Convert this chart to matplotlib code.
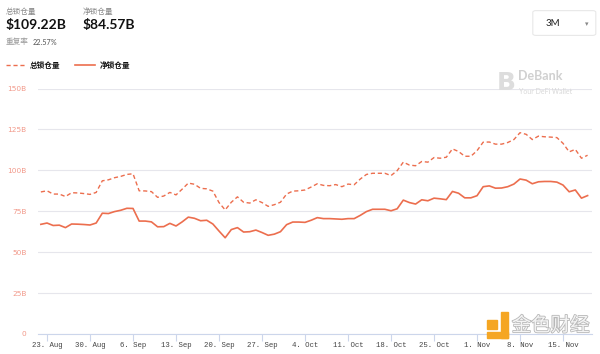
import matplotlib.pyplot as plt
import matplotlib.dates as mdates
import matplotlib.patheffects as pe
import pandas as pd
from matplotlib.patches import Rectangle, FancyBboxPatch

plt.rcParams['font.family'] = ['Noto Sans CJK SC', 'DejaVu Sans']

# 每日数据 (B)
datas = pd.date_range('2021-08-22', '2021-11-19', freq='D')
total_locked = [
    86.8, 87.5, 85.5, 85.5, 84.0, 86.3, 86.2, 85.8, 85.3, 86.5,
    93.6, 94.2, 95.5, 96.3, 97.5, 97.9, 87.5, 87.4, 87.0, 83.5,
    84.3, 86.5, 85.0, 88.5, 92.2, 91.5, 89.0, 88.7, 87.3, 80.3,
    75.8, 80.5, 83.8, 80.5, 80.0, 82.0, 80.3, 78.0, 79.0, 80.5,
    85.5, 87.3, 87.5, 88.0, 89.8, 91.8, 90.8, 90.6, 91.3, 90.0,
    91.6, 91.2, 94.7, 97.5, 98.2, 98.2, 98.2, 96.8, 99.8, 105.0,
    103.2, 102.8, 105.4, 105.0, 107.8, 107.4, 108.0, 113.1, 111.5, 108.6,
    108.6, 112.0, 117.2, 117.3, 116.0, 116.0, 117.0, 118.8, 123.0, 122.0,
    118.8, 120.9, 120.5, 120.3, 120.0, 116.5, 111.3, 112.8, 107.4, 109.22,
]
net_locked = [
    67.0, 67.8, 66.3, 66.5, 65.0, 67.2, 67.1, 66.9, 66.6, 67.8,
    73.8, 73.6, 74.8, 75.6, 76.8, 76.7, 69.0, 69.0, 68.5, 65.5,
    65.6, 67.6, 66.0, 68.5, 71.4, 70.7, 69.2, 69.5, 67.2, 62.9,
    58.8, 63.8, 65.0, 62.3, 62.5, 63.5, 62.0, 60.3, 61.0, 62.5,
    66.8, 68.4, 68.4, 68.2, 69.5, 71.1, 70.5, 70.5, 70.3, 70.1,
    70.5, 70.5, 72.5, 74.8, 76.2, 76.2, 76.2, 75.3, 76.5, 81.8,
    80.3, 79.4, 82.0, 81.4, 83.0, 82.6, 82.1, 87.1, 86.0, 83.2,
    83.2, 84.5, 90.0, 90.5, 89.1, 89.2, 90.0, 91.6, 94.7, 94.0,
    91.8, 93.0, 93.2, 93.2, 92.8, 91.0, 86.9, 88.0, 83.0, 84.57,
]
y_ticks = [0, 25, 50, 75, 100, 125, 150]
y_labels = ['0', '25B', '50B', '75B', '100B', '125B', '150B']

COR = '#ec6e4e'

fig = plt.figure(figsize=(6, 3.54), dpi=100)
ax = fig.add_axes([0.063, 0.0565, 0.924, 0.6935])

ax.plot(datas, total_locked, color=COR, lw=1.0, ls=(0, (3, 2)))
ax.plot(datas, net_locked, color=COR, lw=1.2)

ax.set_ylim(0, 150)
ax.set_xlim(datas[0] - pd.Timedelta(hours=12), datas[-1] + pd.Timedelta(hours=18))
ax.set_yticks(y_ticks)
ax.set_yticklabels(y_labels)
ax.grid(axis='y', color='#e6e6ec', lw=0.8)
ax.set_axisbelow(True)
for s in ['top', 'right', 'left']:
    ax.spines[s].set_visible(False)
ax.spines['bottom'].set_color('#ccd6eb')
ax.spines['bottom'].set_linewidth(0.8)

semanas = pd.date_range('2021-08-23', '2021-11-15', freq='7D')
ax.set_xticks(semanas)
ax.set_xticklabels([d.strftime('%-d. %b') for d in semanas],
                   family='Liberation Mono', fontsize=5.3, color='#444444')
ax.tick_params(axis='x', length=5, color='#ccd6eb', width=0.8, pad=1)
ax.tick_params(axis='y', length=0, pad=8, labelsize=5.3, labelcolor='#f2998a')
for t in ax.get_yticklabels():
    t.set_family('DejaVu Sans')

# Cabeçalho
fig.text(0.01, 0.978, '总锁仓量', fontsize=5.5, color='#888888', va='top')
fig.text(0.01, 0.945, '$109.22B', fontsize=10, color='#111111', va='top', family='Lato', weight='bold')
fig.text(0.138, 0.978, '净锁仓量', fontsize=5.5, color='#888888', va='top')
fig.text(0.138, 0.945, '$84.57B', fontsize=10, color='#111111', va='top', family='Lato', weight='bold')
fig.text(0.01, 0.892, '重复率', fontsize=5.5, color='#999999', va='top')
fig.text(0.055, 0.889, '22.57%', fontsize=5.2, color='#555555', va='top', family='Lato')

# Legenda
fig.add_artist(plt.Line2D([0.01, 0.042], [0.815, 0.815], color=COR, lw=1.0, ls=(0, (3, 2))))
fig.text(0.05, 0.815, '总锁仓量', fontsize=5.5, color='#111111', va='center', weight='bold')
fig.add_artist(plt.Line2D([0.125, 0.158], [0.815, 0.815], color=COR, lw=1.2))
fig.text(0.166, 0.815, '净锁仓量', fontsize=5.5, color='#111111', va='center', weight='bold')

# Seletor 3M
fig.add_artist(FancyBboxPatch((0.888, 0.9), 0.105, 0.07, boxstyle='round,pad=0,rounding_size=0.005',
                              transform=fig.transFigure, fc='white', ec='#e8e8e8', lw=0.8))
fig.text(0.91, 0.935, '3M', fontsize=7, color='#222222', va='center', family='Lato')
fig.text(0.978, 0.932, '▾', fontsize=5, color='#888888', va='center', ha='center', family='DejaVu Sans')

# Marca d'agua DeBank
fig.text(0.843, 0.765, 'B', fontsize=18, color='#dddddd', va='center', ha='center', weight='bold', family='DejaVu Sans')
fig.text(0.864, 0.785, 'DeBank', fontsize=9, color='#d0d0d0', va='center', family='Lato', weight='bold')
fig.text(0.865, 0.742, 'Your DeFi Wallet', fontsize=5, color='#d8d8d8', va='center', family='Lato')

# Marca d'agua 金色财经
fig.add_artist(Rectangle((0.812, 0.07), 0.016, 0.025, transform=fig.transFigure, color='#f5a623'))
fig.add_artist(Rectangle((0.835, 0.045), 0.012, 0.075, transform=fig.transFigure, color='#f5a623'))
fig.add_artist(Rectangle((0.812, 0.045), 0.035, 0.018, transform=fig.transFigure, color='#f5a623'))
fig.text(0.853, 0.08, '金色财经', fontsize=14, color='#f4f4f4', va='center',
         path_effects=[pe.withStroke(linewidth=1.2, foreground='#b8b8b8')])

fig.savefig('out.png', dpi=100, facecolor='white')
